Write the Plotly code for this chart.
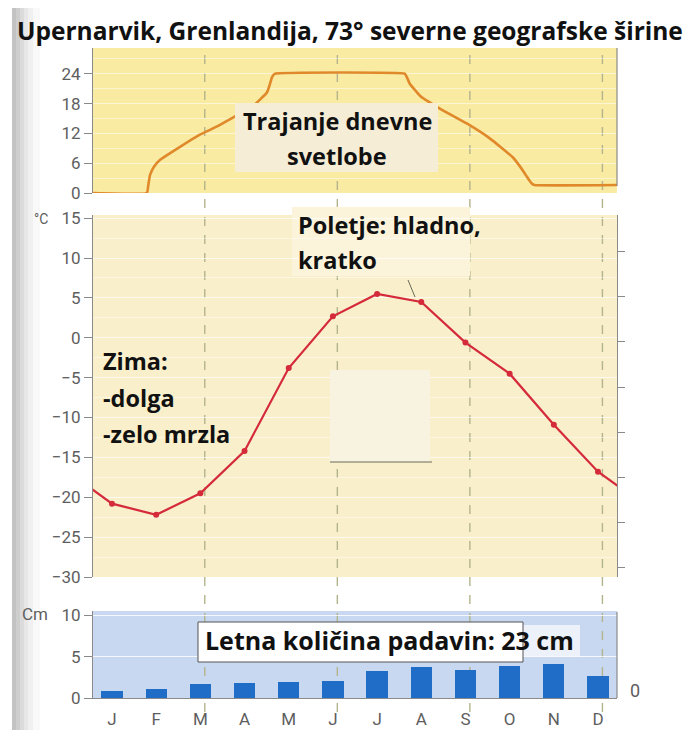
import plotly.graph_objects as go

# ---------------- data ----------------
months = ["J", "F", "M", "A", "M", "J", "J", "A", "S", "O", "N", "D"]
month_pos = list(range(12))

# mean monthly temperature (°C)
temperature = [-20.8, -22.2, -19.5, -14.2, -3.8, 2.7, 5.5, 4.5, -0.6, -4.5, -10.9, -16.8]

# monthly precipitation (cm)
precipitation = [0.85, 1.05, 1.7, 1.85, 1.9, 2.1, 3.2, 3.7, 3.4, 3.85, 4.1, 2.65]

# daylight duration curve (position in months, hours)
daylight_pos = [-0.43, 0.79, 0.82, 0.86, 0.95, 1.09, 1.54, 2.0, 2.38, 2.74, 3.19, 3.36, 3.51, 3.57, 3.62, 3.68,
                6.63, 6.68, 6.74, 6.97, 7.42, 8.03, 8.55, 9.07, 9.34, 9.44, 9.50, 9.56, 11.43]
daylight_hours = [0, 0, 1.5, 3.6, 5.3, 6.7, 9.3, 11.8, 13.4, 15.2, 17.5, 18.9, 20.3, 21.8, 23.3, 24,
                  24, 23.2, 22, 19.6, 17, 14, 11, 7.2, 4, 2.6, 1.9, 1.6, 1.6]

title_text = "Upernarvik, Grenlandija, 73° severne geografske širine"

# ---------------- helpers (screen pixel -> paper) ----------------
OFF = 8                          # default page margin of the html body
W, H = 693 - OFF, 730 - OFF
L, R, T, B = 93, 617, 48, 698    # plot area in screen pixels


def PX(px):
    return (px - L) / (R - L)


def PY(py):
    return (B - py) / (B - T)


TXT_FONT = "Open Sans"
TICK_FONT = dict(family="Roboto", size=17, color="#5e5e5e")
AX_COL = "#8a8a8a"

fig = go.Figure()

# wrap the temperature line around the year (Dec before Jan, Jan after Dec)
t_x = [-1] + month_pos + [12]
t_y = [temperature[-1]] + temperature + [temperature[0]]

fig.add_trace(go.Scatter(
    x=daylight_pos, y=daylight_hours, mode="lines",
    line=dict(color="#E0892B", width=2.6, shape="spline", smoothing=0.3),
    xaxis="x", yaxis="y", hoverinfo="skip", showlegend=False))

fig.add_trace(go.Scatter(
    x=t_x, y=t_y, mode="lines+markers",
    line=dict(color="#D42A3A", width=2.2),
    marker=dict(color="#D42A3A", size=6),
    xaxis="x", yaxis="y2", showlegend=False))

fig.add_trace(go.Bar(
    x=month_pos, y=precipitation, width=0.48,
    marker=dict(color="#1F6DC6", line=dict(width=0)),
    xaxis="x", yaxis="y3", showlegend=False))

# invisible trace to show the right-hand tick axis of the middle panel
fig.add_trace(go.Scatter(x=[None], y=[None], xaxis="x", yaxis="y4",
                         showlegend=False, hoverinfo="skip"))

shapes = []

# panel backgrounds
shapes.append(dict(type="rect", xref="x domain", yref="y domain", x0=0, x1=1, y0=0, y1=1,
                   fillcolor="#FAEBA3", line=dict(width=0), layer="below"))
shapes.append(dict(type="rect", xref="x domain", yref="y2 domain", x0=0, x1=1, y0=0, y1=1,
                   fillcolor="#F9EFCB", line=dict(width=0), layer="below"))
shapes.append(dict(type="rect", xref="x domain", yref="y3 domain", x0=0, x1=1, y0=0, y1=1,
                   fillcolor="#C8D8F1", line=dict(width=0), layer="below"))

# page shadow on the left edge
shadow = [(12, 16, 0.42), (16, 20, 0.34), (20, 24, 0.25), (24, 28, 0.17), (28, 33, 0.10), (33, 40, 0.04)]
for a, b_, op in shadow:
    shapes.append(dict(type="rect", xref="paper", yref="paper",
                       x0=PX(a), x1=PX(b_), y0=PY(760), y1=PY(0),
                       fillcolor="#707070", opacity=op, line=dict(width=0), layer="below"))

# dashed season lines
for xv in [2.1, 5.1, 8.1, 11.1]:
    shapes.append(dict(type="line", xref="x", yref="paper", x0=xv, x1=xv,
                       y0=PY(712), y1=PY(48),
                       line=dict(color="#B4B48C", width=1.4, dash="dash"), layer="below"))

# right frame lines
shapes.append(dict(type="line", xref="paper", yref="paper", x0=1, x1=1, y0=PY(186), y1=1,
                   line=dict(color=AX_COL, width=1.2)))
shapes.append(dict(type="line", xref="paper", yref="paper", x0=1, x1=1, y0=0, y1=PY(612),
                   line=dict(color=AX_COL, width=1.2)))

# box behind "Trajanje dnevne svetlobe"
shapes.append(dict(type="rect", xref="paper", yref="paper",
                   x0=PX(235), x1=PX(438), y0=PY(172), y1=PY(103),
                   fillcolor="#F5EDD6", line=dict(width=0)))
# pale box behind "Poletje"
shapes.append(dict(type="rect", xref="paper", yref="paper",
                   x0=PX(292), x1=PX(470), y0=PY(276), y1=PY(207),
                   fillcolor="#FBF3DA", line=dict(width=0), layer="below"))
# blank (erased) box in the middle panel
shapes.append(dict(type="rect", xref="paper", yref="paper",
                   x0=PX(330), x1=PX(430), y0=PY(462), y1=PY(370),
                   fillcolor="#F8F2E1", line=dict(width=0)))
shapes.append(dict(type="line", xref="paper", yref="paper",
                   x0=PX(330), x1=PX(432), y0=PY(462), y1=PY(462),
                   line=dict(color="#6a6a5a", width=1)))
# small stroke near August point
shapes.append(dict(type="line", xref="paper", yref="paper",
                   x0=PX(408), x1=PX(415), y0=PY(280), y1=PY(297),
                   line=dict(color="#6a6a5a", width=1)))
# box behind precipitation text
shapes.append(dict(type="rect", xref="paper", yref="paper",
                   x0=PX(523), x1=PX(580), y0=PY(657), y1=PY(625),
                   fillcolor="rgba(250,250,252,0.75)", line=dict(width=0)))
shapes.append(dict(type="rect", xref="paper", yref="paper",
                   x0=PX(198), x1=PX(523), y0=PY(662), y1=PY(622),
                   fillcolor="#FFFFFF", line=dict(color="#555555", width=1)))

annotations = []


def txt(text, px, py, size=23.5, xanchor="left", color="#111111", bold=True, family=TXT_FONT):
    annotations.append(dict(
        text=f"<b>{text}</b>" if bold else text,
        x=PX(px), y=PY(py), xref="paper", yref="paper",
        xanchor=xanchor, yanchor="middle", showarrow=False,
        font=dict(family=family, size=size, color=color)))


txt(title_text, 350, 31, size=24.5, xanchor="center")
txt("Trajanje dnevne", 337, 121, xanchor="center")
txt("svetlobe", 337, 156, xanchor="center")
txt("Poletje: hladno,", 296, 225)
txt("kratko", 296, 260)
txt("Zima:", 101, 361)
txt("-dolga", 101, 398)
txt("-zelo mrzla", 101, 434)
txt("Letna količina padavin: 23 cm", 203, 640, size=25)
txt("°C", 32, 219, size=14, color="#5e5e5e", bold=False, family="Roboto")
txt("Cm", 20, 614, size=17, color="#5e5e5e", bold=False, family="Roboto")
txt("0", 628, 690, size=18, color="#5e5e5e", bold=False, family="Roboto")

fig.update_layout(
    width=W, height=H,
    margin=dict(l=L - OFF, r=W - (R - OFF), t=T - OFF, b=H - (B - OFF), autoexpand=False),
    paper_bgcolor="white", plot_bgcolor="rgba(0,0,0,0)",
    showlegend=False, bargap=0,
    shapes=shapes, annotations=annotations,
    xaxis=dict(domain=[0, 1], anchor="y3", range=[-0.43, 11.43], automargin=False,
               tickmode="array", tickvals=month_pos, ticktext=months,
               tickfont=dict(family="Roboto", size=17, color="#5e5e5e"),
               ticks="", showgrid=False, zeroline=False,
               showline=True, linecolor=AX_COL, linewidth=1.2, ticklabelstandoff=5),
    yaxis=dict(domain=[PY(193), 1], anchor="x", range=[0, 29.2], dtick=6, automargin=False,
               tickfont=TICK_FONT, ticks="outside", ticklen=8, tickcolor=AX_COL,
               showline=True, linecolor=AX_COL, linewidth=1.2,
               gridcolor="rgba(255,255,255,0.55)", gridwidth=1,
               minor=dict(dtick=3, showgrid=True, gridcolor="rgba(255,255,255,0.45)"),
               zeroline=False, ticklabelstandoff=0),
    yaxis2=dict(domain=[PY(577), PY(215)], anchor="x", range=[-30, 15.4], dtick=5, automargin=False,
                tickfont=TICK_FONT, ticks="outside", ticklen=8, tickcolor=AX_COL,
                showline=True, linecolor=AX_COL, linewidth=1.2,
                gridcolor="rgba(255,255,255,0.7)", gridwidth=1,
                minor=dict(dtick=2.5, showgrid=True, gridcolor="rgba(255,255,255,0.45)"),
                zeroline=False, ticklabelstandoff=0),
    yaxis3=dict(domain=[0, PY(611)], anchor="x", range=[0, 10.5], dtick=5, automargin=False,
                tickfont=TICK_FONT, ticks="outside", ticklen=8, tickcolor=AX_COL,
                showline=True, linecolor=AX_COL, linewidth=1.2,
                gridcolor="rgba(255,255,255,0.8)", gridwidth=1.2,
                zeroline=False, ticklabelstandoff=0),
    yaxis4=dict(overlaying="y2", side="right", anchor="x", range=[-0.22, 7.82], dtick=1, automargin=False,
                showticklabels=False, ticks="outside", ticklen=7, tickcolor=AX_COL,
                showline=True, linecolor=AX_COL, linewidth=1.2, showgrid=False,
                zeroline=False),
)

fig.write_html("out.html")
